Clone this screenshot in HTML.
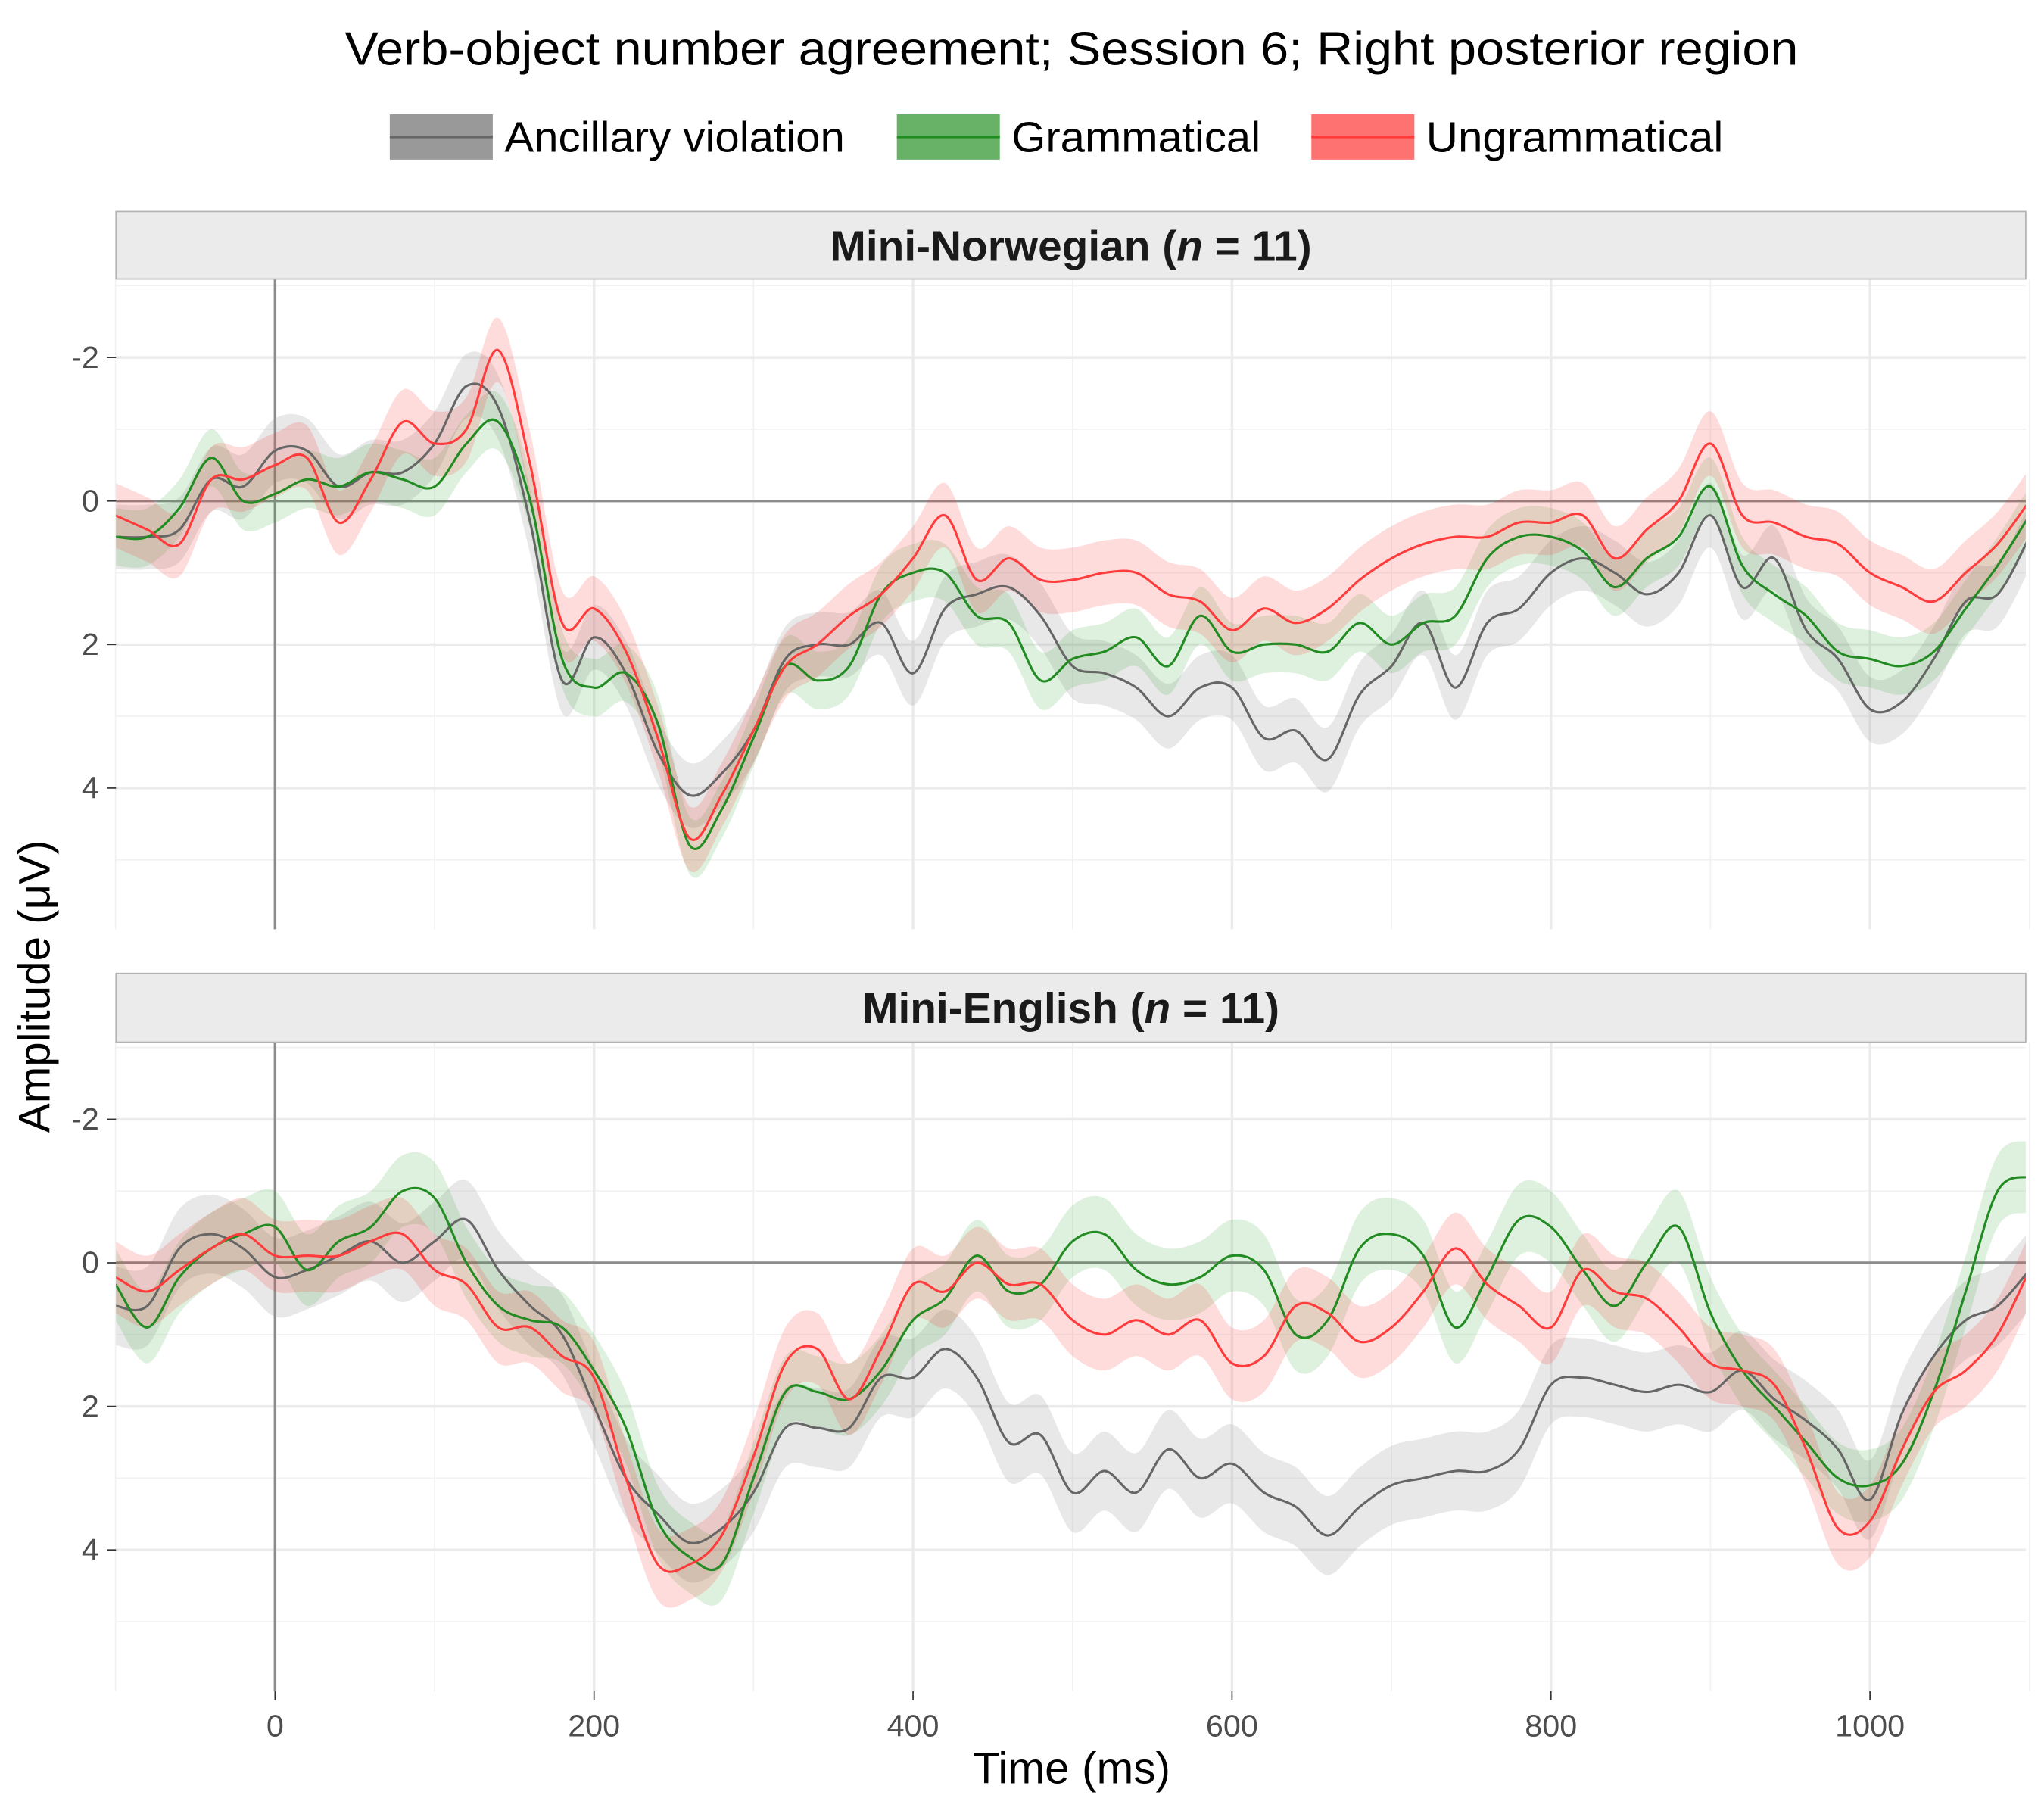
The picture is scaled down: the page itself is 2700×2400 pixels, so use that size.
<!DOCTYPE html>
<html><head><meta charset="utf-8"><style>
html,body{margin:0;padding:0;background:#fff}
svg{display:block}
text{font-family:"Liberation Sans",Arial,sans-serif}
</style></head><body>
<svg id="chart" width="2700" height="2400" viewBox="0 0 1568 1400" preserveAspectRatio="none" xmlns="http://www.w3.org/2000/svg">
<rect x="0" y="0" width="1568" height="1400" fill="#fff"/>
<text x="822" y="50" font-size="36" text-anchor="middle" fill="#000" textLength="1115" lengthAdjust="spacingAndGlyphs">Verb-object number agreement; Session 6; Right posterior region</text>
<g>
 <g><rect x="299" y="88" width="79" height="35" fill="#999"/><line x1="299" x2="378" y1="105.5" y2="105.5" stroke="#666" stroke-width="2"/><text x="387" y="117" font-size="33" textLength="261" lengthAdjust="spacingAndGlyphs">Ancillary violation</text></g>
 <g><rect x="688" y="88" width="79" height="35" fill="#68b268"/><line x1="688" x2="767" y1="105.5" y2="105.5" stroke="#228b22" stroke-width="2"/><text x="776" y="117" font-size="33" textLength="191" lengthAdjust="spacingAndGlyphs">Grammatical</text></g>
 <g><rect x="1006" y="88" width="79" height="35" fill="#ff7272"/><line x1="1006" x2="1085" y1="105.5" y2="105.5" stroke="#ff3b3b" stroke-width="2"/><text x="1094" y="117" font-size="33" textLength="228" lengthAdjust="spacingAndGlyphs">Ungrammatical</text></g>
</g>
<g id="panels"></g>
<text x="822" y="1374" font-size="34" text-anchor="middle">Time (ms)</text>
<text transform="translate(38,760) rotate(-90)" font-size="34" text-anchor="middle">Amplitude (μV)</text>
</svg>
<script>
const times = Array.from({length:61},(_, i)=>-100+i*20);
const xTicks = [0,200,400,600,800,1000];
const yTicks = [-2,0,2,4];
const panelTitles = ["Mini-Norwegian", "Mini-English"];
const seriesNames = ["Ancillary violation","Grammatical","Ungrammatical"];
const grayN = [0.5,0.5,0.4,-0.3,-0.2,-0.7,-0.7,-0.2,-0.4,-0.4,-0.8,-1.6,-1.3,0.3,2.5,1.9,2.4,3.5,4.1,3.8,3.2,2.2,2.0,2.0,1.7,2.4,1.5,1.3,1.2,1.6,2.3,2.4,2.6,3.0,2.6,2.6,3.3,3.2,3.6,2.7,2.3,1.7,2.6,1.7,1.5,1.0,0.8,1.0,1.3,1.0,0.2,1.2,0.8,1.8,2.2,2.9,2.8,2.2,1.4,1.3,0.5];
const greenN = [0.5,0.5,0.1,-0.6,0.0,-0.1,-0.3,-0.2,-0.4,-0.3,-0.2,-0.8,-1.1,0.0,2.2,2.6,2.4,3.1,4.8,4.3,3.3,2.3,2.5,2.3,1.3,1.0,1.0,1.6,1.7,2.5,2.2,2.1,1.9,2.3,1.6,2.1,2.0,2.0,2.1,1.7,2.0,1.7,1.6,0.8,0.5,0.5,0.7,1.2,0.8,0.5,-0.2,0.9,1.3,1.6,2.1,2.2,2.3,2.1,1.5,0.9,0.2];
const redN = [0.2,0.4,0.6,-0.3,-0.3,-0.5,-0.6,0.3,-0.3,-1.1,-0.8,-1.0,-2.1,-0.5,1.7,1.5,2.1,3.3,4.7,4.1,3.2,2.3,2.0,1.6,1.3,0.8,0.2,1.1,0.8,1.1,1.1,1.0,1.0,1.3,1.4,1.8,1.5,1.7,1.5,1.1,0.8,0.6,0.5,0.5,0.3,0.3,0.2,0.8,0.4,0.0,-0.8,0.2,0.3,0.5,0.6,1.0,1.2,1.4,1.0,0.6,0.0];
const grayE = [0.6,0.6,-0.2,-0.4,-0.2,0.2,0.1,-0.1,-0.3,0.0,-0.3,-0.6,0.1,0.6,1.0,2.0,3.0,3.5,3.9,3.7,3.2,2.3,2.3,2.3,1.6,1.6,1.2,1.6,2.5,2.4,3.2,2.9,3.2,2.6,3.0,2.8,3.2,3.4,3.8,3.4,3.1,3.0,2.9,2.9,2.6,1.7,1.6,1.7,1.8,1.7,1.8,1.5,1.9,2.2,2.6,3.3,2.1,1.3,0.8,0.6,0.1];
const greenE = [0.3,0.9,0.2,-0.2,-0.4,-0.5,0.1,-0.3,-0.5,-1.0,-0.9,0.0,0.6,0.8,0.9,1.5,2.3,3.6,4.1,4.2,3.0,1.8,1.8,1.9,1.5,0.8,0.5,-0.1,0.4,0.3,-0.3,-0.4,0.1,0.3,0.2,-0.1,0.1,1.0,0.8,-0.2,-0.4,-0.1,0.9,0.2,-0.6,-0.5,0.1,0.6,0.0,-0.5,0.7,1.5,2.0,2.5,3.0,3.1,2.8,1.8,0.4,-1.0,-1.2];
const redE = [0.2,0.4,0.1,-0.2,-0.4,-0.1,-0.1,-0.1,-0.3,-0.4,0.1,0.3,0.9,0.9,1.3,1.6,3.0,4.2,4.2,3.8,2.7,1.4,1.2,1.9,1.2,0.3,0.4,0.0,0.3,0.3,0.8,1.0,0.8,1.0,0.8,1.4,1.3,0.6,0.7,1.1,0.9,0.4,-0.2,0.3,0.6,0.9,0.1,0.4,0.5,0.9,1.4,1.5,1.7,2.6,3.7,3.6,2.6,1.8,1.5,1.0,0.1];
const seN = [0.45,0.4,0.45];
const seE = [0.55,0.5,0.5];

const NS='http://www.w3.org/2000/svg';
const root=document.getElementById('panels');
function mk(tag,attrs,parent){const e=document.createElementNS(NS,tag);for(const k in attrs)e.setAttribute(k,attrs[k]);(parent||root).appendChild(e);return e;}
const X0=89,X1=1554;
function xs(t){return 211+(t)*1.2235;}
function path(pts){let d='M'+pts[0][0].toFixed(1)+','+pts[0][1].toFixed(1);
 for(let i=0;i<pts.length-1;i++){const p0=pts[Math.max(0,i-1)],p1=pts[i],p2=pts[i+1],p3=pts[Math.min(pts.length-1,i+2)];
  const c1=[p1[0]+(p2[0]-p0[0])/6,p1[1]+(p2[1]-p0[1])/6],c2=[p2[0]-(p3[0]-p1[0])/6,p2[1]-(p3[1]-p1[1])/6];
  d+='C'+c1[0].toFixed(1)+','+c1[1].toFixed(1)+' '+c2[0].toFixed(1)+','+c2[1].toFixed(1)+' '+p2[0].toFixed(1)+','+p2[1].toFixed(1);}
 return d;}
const panelDefs=[{strip:163,top:215,bot:716,zero:386,data:[grayN,greenN,redN],se:seN,key:'norwegian'},
                 {strip:750,top:803,bot:1303,zero:973,data:[grayE,greenE,redE],se:seE,key:'english'}];
const lineCols=['#666666','#228b22','#ff3b3b'];
const fillCols=['rgba(150,150,150,0.22)','rgba(34,160,34,0.15)','rgba(255,40,40,0.16)'];
const keys=['ancillary','grammatical','ungrammatical'];
panelDefs.forEach((P,pi)=>{
 const g=mk('g',{});
 
 
 const ys=v=>P.zero+v*55.3;
 const clipId='clip'+pi;
 const cp=mk('clipPath',{id:clipId},g);mk('rect',{x:X0,y:P.top,width:X1-X0,height:P.bot-P.top},cp);
 for(let v=-3;v<=6;v++){if(v%2!==0){mk('line',{x1:X0,x2:X1,y1:ys(v),y2:ys(v),stroke:'#f2f2f2','stroke-width':1},g);}}
 for(let t=-100;t<=1100;t+=200){mk('line',{x1:xs(t),x2:xs(t),y1:P.top,y2:P.bot,stroke:'#f2f2f2','stroke-width':1},g);}
 yTicks.forEach(v=>{mk('line',{x1:X0,x2:X1,y1:ys(v),y2:ys(v),stroke:'#ebebeb','stroke-width':2},g);
  const tl=mk('text',{x:76,y:ys(v)+8,'font-size':24,'text-anchor':'end',fill:'#4d4d4d'},g);tl.textContent=String(v);
  
  
  mk('line',{x1:82,x2:89,y1:ys(v),y2:ys(v),stroke:'#333','stroke-width':1},g);});
 xTicks.forEach(t=>mk('line',{x1:xs(t),x2:xs(t),y1:P.top,y2:P.bot,stroke:'#ebebeb','stroke-width':2},g));
 mk('line',{x1:X0,x2:X1,y1:ys(0),y2:ys(0),stroke:'#8c8c8c','stroke-width':2},g);
 mk('line',{x1:xs(0),x2:xs(0),y1:P.top,y2:P.bot,stroke:'#8c8c8c','stroke-width':2},g);
 const sg=mk('g',{'clip-path':'url(#'+clipId+')'},g);
 P.data.forEach((arr,si)=>{
  const up=times.map((t,i)=>[xs(t),ys(arr[i]-P.se[si])]);
  const dn=times.map((t,i)=>[xs(t),ys(arr[i]+P.se[si])]).reverse();
  const rib=mk('path',{d:path(up)+'L'+path(dn).slice(1)+'Z',fill:fillCols[si],stroke:'none'},sg);
  
  
 });
 P.data.forEach((arr,si)=>{
  const ln=mk('path',{d:path(times.map((t,i)=>[xs(t),ys(arr[i])])),fill:'none',stroke:lineCols[si],'stroke-width':1.8},sg);
  
  
 });
 const st=mk('rect',{x:X0,y:P.strip,width:X1-X0,height:P.top-P.strip,fill:'#ebebeb',stroke:'#b3b3b3','stroke-width':1},g);
 
 
 const tt=mk('text',{x:(X0+X1)/2,y:P.strip+38,'font-size':33,'font-weight':'bold','text-anchor':'middle',fill:'#1a1a1a'},g);
 
 
 tt.innerHTML=panelTitles[pi]+' (<tspan font-style="italic">n</tspan> = 11)';
 if(pi===1){xTicks.forEach(t=>{mk('line',{x1:xs(t),x2:xs(t),y1:P.bot,y2:P.bot+7,stroke:'#333','stroke-width':1},g);
  const xl=mk('text',{x:xs(t),y:P.bot+35,'font-size':24,'text-anchor':'middle',fill:'#4d4d4d'},g);xl.textContent=String(t);
  
  });}
});
</script>
</body></html>
